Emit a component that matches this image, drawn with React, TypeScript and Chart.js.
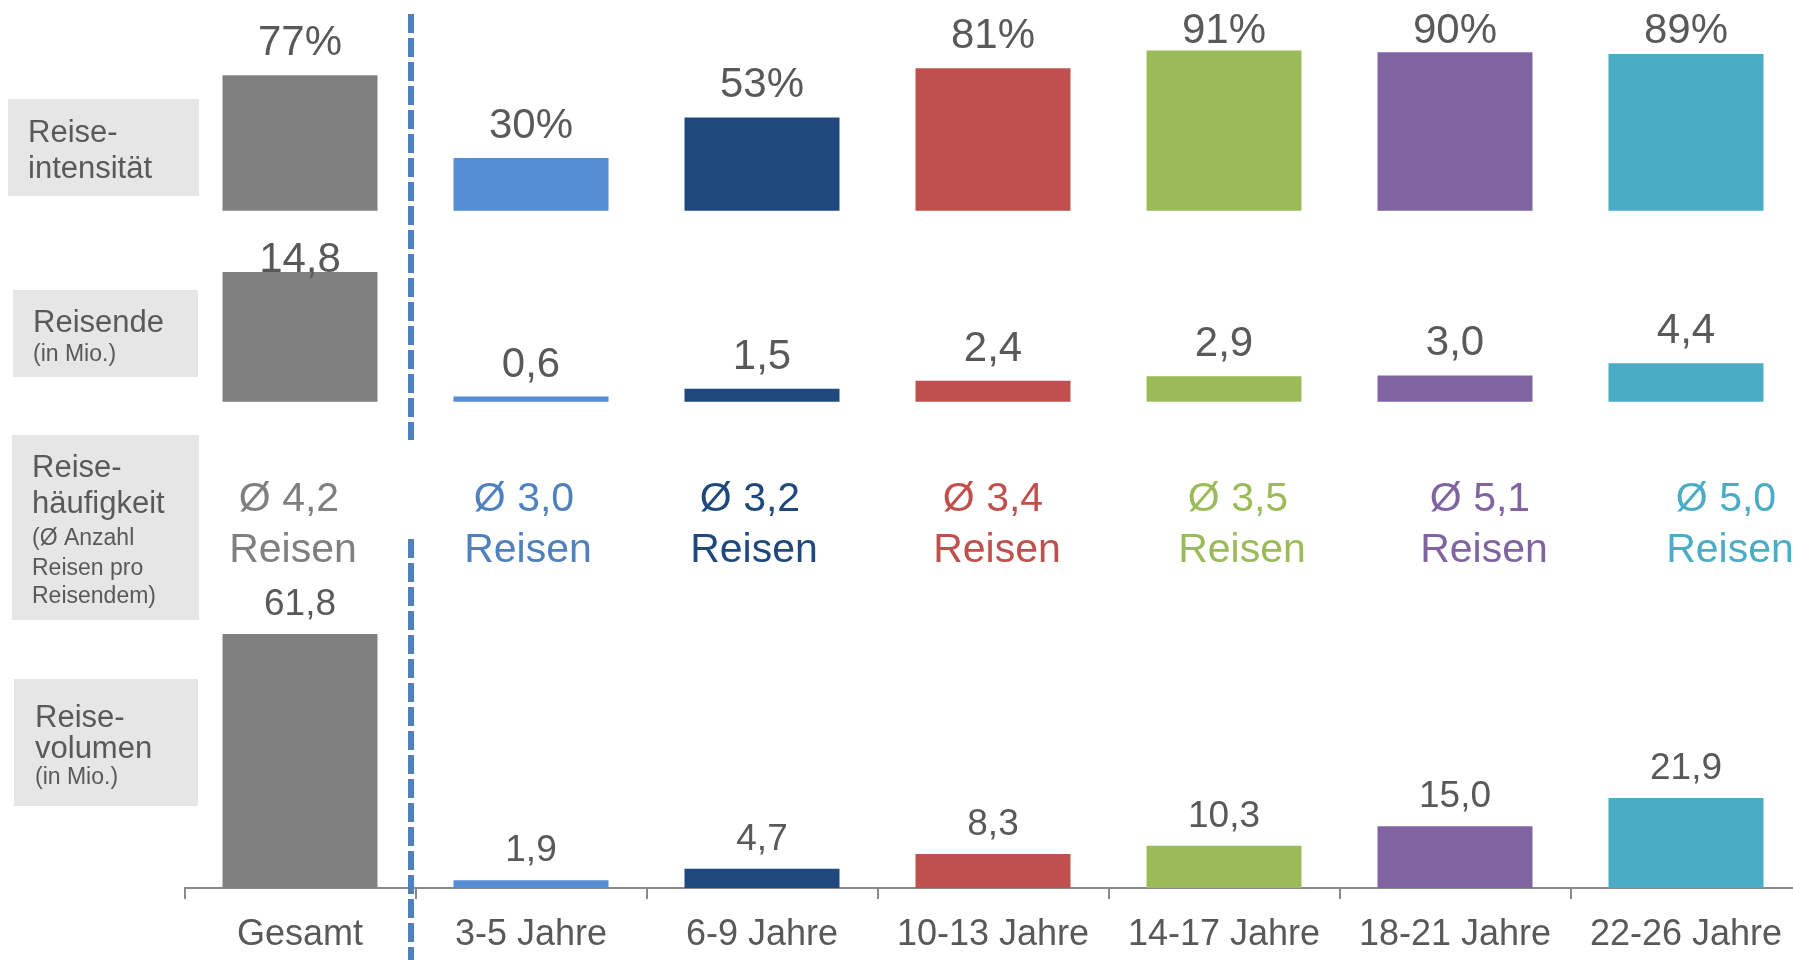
import React, { useEffect, useRef } from 'react';
import { Chart, registerables } from 'chart.js';

Chart.register(...registerables);

// ---------- data ----------
const categories = ['Gesamt', '3-5 Jahre', '6-9 Jahre', '10-13 Jahre', '14-17 Jahre', '18-21 Jahre', '22-26 Jahre'];
const reiseintensitaet = [77, 30, 53, 81, 91, 90, 89]; // %
const reisende = [14.8, 0.6, 1.5, 2.4, 2.9, 3.0, 4.4]; // Mio.
const reisehaeufigkeit = [4.2, 3.0, 3.2, 3.4, 3.5, 5.1, 5.0]; // Ø Reisen
const reisevolumen = [61.8, 1.9, 4.7, 8.3, 10.3, 15.0, 21.9]; // Mio.

const rowTitles = [
  [['Reise-', 'big'], ['intensität', 'big']],
  [['Reisende', 'big'], ['(in Mio.)', 'small']],
  [['Reise-', 'big'], ['häufigkeit', 'big'], ['(Ø Anzahl', 'small'], ['Reisen pro', 'small'], ['Reisendem)', 'small']],
  [['Reise-', 'big'], ['volumen', 'big'], ['(in Mio.)', 'small']],
];
const reisenWord = 'Reisen';

// ---------- styles ----------
const FONT = '"Liberation Sans", Arial, Helvetica, sans-serif';
const barColors = ['#808080', '#558ED5', '#1F497D', '#C0504D', '#9BBB59', '#8064A2', '#4BACC6'];
const textColors = ['#7F7F7F', '#4F81BD', '#1F497D', '#C0504D', '#9BBB59', '#8064A2', '#4BACC6'];
const LABEL_GRAY = '#595959';
const AXIS_GRAY = '#898989';
const BOX_FILL = '#E6E6E6';
const DASH_COLOR = '#4F81BD';

const CANVAS_W = 1810;
const CANVAS_H = 960;
const AREA_LEFT = 184.5;
const AREA_RIGHT_PAD = 8.5;
const X_AXIS_H = 72;
const AREA_H = CANVAS_H - X_AXIS_H; // chart area from 0 to 888
const BAR_PCT = 155 / 231;

// each row is a y-scale whose zero sits at a given pixel height of the chart area
const band = (zeroPx: number, pxPerUnit: number) => ({
  min: -(AREA_H - zeroPx) / pxPerUnit,
  max: zeroPx / pxPerUnit,
});

const fmt1 = (v: number) => v.toFixed(1).replace('.', ',');

const rowLabelStyle = [
  { format: (v: number) => `${v}%`, size: 42, gap: 20, minBaseline: 43 },
  { format: fmt1, size: 42, gap: 20, minBaseline: 272 },
  { format: fmt1, size: 37, gap: 19, minBaseline: 0 },
];

const boxes = [
  { x: 8, y: 99, w: 191, h: 97, tx: 28, baselines: [142, 178] },
  { x: 13, y: 290, w: 185, h: 87, tx: 33, baselines: [332, 361] },
  { x: 12, y: 435, w: 187, h: 185, tx: 32, baselines: [477, 513, 545, 575, 603] },
  { x: 14, y: 679, w: 184, h: 127, tx: 35, baselines: [727, 758, 784] },
];

const freqNudge = [-11, -7, -12, 0, 14, 25, 40];
const FREQ_BASE1 = 511;
const FREQ_BASE2 = 562;

const overlayPlugin = {
  id: 'overlay',
  beforeDraw(chart: any) {
    const ctx = chart.ctx as CanvasRenderingContext2D;
    ctx.save();
    ctx.fillStyle = '#ffffff';
    ctx.fillRect(0, 0, chart.width, chart.height);
    boxes.forEach((b, bi) => {
      ctx.fillStyle = BOX_FILL;
      ctx.fillRect(b.x, b.y, b.w, b.h);
      ctx.fillStyle = LABEL_GRAY;
      ctx.textAlign = 'left';
      ctx.textBaseline = 'alphabetic';
      rowTitles[bi].forEach(([txt, kind], li) => {
        ctx.font = `${kind === 'big' ? 31 : 23}px ${FONT}`;
        ctx.fillText(txt, b.tx, b.baselines[li]);
      });
    });
    ctx.restore();
  },
  afterDatasetsDraw(chart: any) {
    const ctx = chart.ctx as CanvasRenderingContext2D;
    ctx.save();
    ctx.textAlign = 'center';
    ctx.textBaseline = 'alphabetic';
    ctx.fillStyle = LABEL_GRAY;
    chart.data.datasets.forEach((ds: any, di: number) => {
      const st = rowLabelStyle[di];
      const meta = chart.getDatasetMeta(di);
      ctx.font = `${st.size}px ${FONT}`;
      meta.data.forEach((el: any, i: number) => {
        const v = ds.data[i] as number;
        const base = Math.max(el.y - st.gap, st.minBaseline);
        ctx.fillText(st.format(v), el.x, base);
      });
    });
    ctx.restore();
  },
  afterDraw(chart: any) {
    const ctx = chart.ctx as CanvasRenderingContext2D;
    const xs = chart.scales.x;
    ctx.save();
    // Reisehäufigkeit text row
    ctx.textAlign = 'center';
    ctx.textBaseline = 'alphabetic';
    ctx.font = `41px ${FONT}`;
    reisehaeufigkeit.forEach((v, i) => {
      const cx = xs.getPixelForValue(i) + freqNudge[i];
      ctx.fillStyle = textColors[i];
      ctx.fillText(`Ø ${fmt1(v)}`, cx, FREQ_BASE1);
      ctx.fillText(reisenWord, cx + 4, FREQ_BASE2);
    });
    // dashed separator
    const sepX = (xs.getPixelForValue(0) + xs.getPixelForValue(1)) / 2 - 4.5;
    ctx.strokeStyle = DASH_COLOR;
    ctx.lineWidth = 6;
    ctx.setLineDash([19, 5]);
    ctx.beginPath();
    ctx.moveTo(sepX, 14);
    ctx.lineTo(sepX, 440);
    ctx.stroke();
    ctx.beginPath();
    ctx.moveTo(sepX, 539);
    ctx.lineTo(sepX, CANVAS_H);
    ctx.stroke();
    ctx.restore();
  },
};

export default function App() {
  const ref = useRef<HTMLCanvasElement>(null);

  useEffect(() => {
    const canvas = ref.current;
    if (!canvas) return;
    const common = {
      backgroundColor: barColors,
      borderWidth: 0,
      grouped: false,
      barPercentage: BAR_PCT,
      categoryPercentage: 1,
    };
    const chart = new Chart(canvas, {
      type: 'bar',
      data: {
        labels: categories,
        datasets: [
          { label: 'Reiseintensität', data: reiseintensitaet, yAxisID: 'yInt', ...common },
          { label: 'Reisende', data: reisende, yAxisID: 'yRei', ...common },
          { label: 'Reisevolumen', data: reisevolumen, yAxisID: 'yVol', ...common },
        ] as any,
      },
      options: {
        responsive: false,
        animation: false,
        devicePixelRatio: 1,
        layout: { padding: { left: AREA_LEFT, right: AREA_RIGHT_PAD, top: 0, bottom: 0 } },
        plugins: {
          legend: { display: false },
          tooltip: { enabled: false },
        },
        scales: {
          x: {
            type: 'category',
            offset: true,
            grid: {
              display: true,
              offset: true,
              drawOnChartArea: false,
              drawTicks: true,
              tickLength: 11,
              color: AXIS_GRAY,
              lineWidth: 2,
            },
            border: { display: true, color: AXIS_GRAY, width: 2 },
            ticks: {
              color: LABEL_GRAY,
              font: { family: FONT, size: 36 },
              padding: 14,
              autoSkip: false,
              maxRotation: 0,
            },
            afterFit: (s: any) => {
              s.height = X_AXIS_H;
            },
          },
          yInt: { type: 'linear', display: false, ...band(210.7, 1.76) },
          yRei: { type: 'linear', display: false, ...band(401.8, 8.77) },
          yVol: { type: 'linear', display: false, ...band(888, 4.11) },
        },
      } as any,
      plugins: [overlayPlugin],
    });
    return () => chart.destroy();
  }, []);

  return (
    <div
      style={{
        position: 'fixed',
        left: 0,
        top: 0,
        width: 1793,
        height: 960,
        overflow: 'hidden',
        background: '#ffffff',
      }}
    >
      <canvas ref={ref} width={CANVAS_W} height={CANVAS_H} style={{ display: 'block' }} />
    </div>
  );
}
